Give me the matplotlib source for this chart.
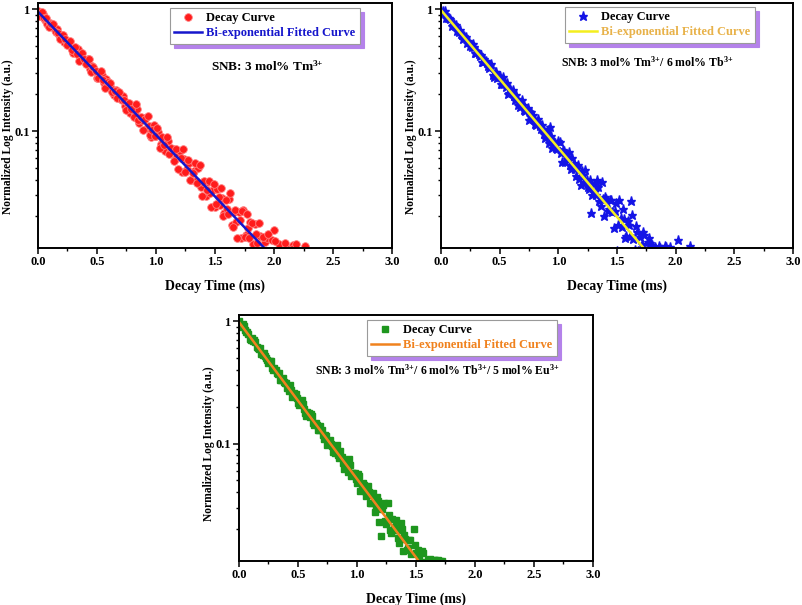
import numpy as np
import matplotlib
matplotlib.use("Agg")
import matplotlib.pyplot as plt
from matplotlib.ticker import (MultipleLocator, FixedLocator, LogLocator,
                               NullFormatter, FuncFormatter, FormatStrFormatter)

plt.rcParams["font.family"] = ["Liberation Serif", "DejaVu Serif"]
plt.rcParams["font.weight"] = "bold"
plt.rcParams["mathtext.fontset"] = "custom"
plt.rcParams["mathtext.rm"] = "Liberation Serif:bold"
plt.rcParams["mathtext.bf"] = "Liberation Serif:bold"
plt.rcParams["mathtext.it"] = "Liberation Serif:bold"

# === Data ===
# two interleaved sampling grids of the decay (ms)
decay_time = [
    0.00, 0.02, 0.04, 0.06, 0.08, 0.10, 0.12, 0.14, 0.16, 0.18,
    0.20, 0.22, 0.24, 0.26, 0.28, 0.30, 0.32, 0.34, 0.36, 0.38,
    0.40, 0.42, 0.44, 0.46, 0.48, 0.50, 0.52, 0.54, 0.56, 0.58,
    0.60, 0.62, 0.64, 0.66, 0.68, 0.70, 0.72, 0.74, 0.76, 0.78,
    0.80, 0.82, 0.84, 0.86, 0.88, 0.90, 0.92, 0.94, 0.96, 0.98,
    1.00, 1.02, 1.04, 1.06, 1.08, 1.10, 1.12, 1.14, 1.16, 1.18,
    1.20, 1.22, 1.24, 1.26, 1.28, 1.30, 1.32, 1.34, 1.36, 1.38,
    1.40, 1.42, 1.44, 1.46, 1.48, 1.50, 1.52, 1.54, 1.56, 1.58,
    1.60, 1.62, 1.64, 1.66, 1.68, 1.70, 1.72, 1.74, 1.76, 1.78,
    1.80, 1.82, 1.84, 1.86, 1.88, 1.90, 1.92, 1.94, 1.96, 1.98,
    2.00, 2.02, 2.04, 2.06, 2.08, 2.10, 2.12, 2.14, 2.16, 2.18,
    2.20, 2.22, 2.24, 2.26, 2.28,
]
decay_time_b = [
    0.01, 0.03, 0.05, 0.07, 0.09, 0.11, 0.13, 0.15, 0.17, 0.19,
    0.21, 0.23, 0.25, 0.27, 0.29, 0.31, 0.33, 0.35, 0.37, 0.39,
    0.41, 0.43, 0.45, 0.47, 0.49, 0.51, 0.53, 0.55, 0.57, 0.59,
    0.61, 0.63, 0.65, 0.67, 0.69, 0.71, 0.73, 0.75, 0.77, 0.79,
    0.81, 0.83, 0.85, 0.87, 0.89, 0.91, 0.93, 0.95, 0.97, 0.99,
    1.01, 1.03, 1.05, 1.07, 1.09, 1.11, 1.13, 1.15, 1.17, 1.19,
    1.21, 1.23, 1.25, 1.27, 1.29, 1.31, 1.33, 1.35, 1.37, 1.39,
    1.41, 1.43, 1.45, 1.47, 1.49, 1.51, 1.53, 1.55, 1.57, 1.59,
    1.61, 1.63, 1.65, 1.67, 1.69, 1.71, 1.73, 1.75, 1.77, 1.79,
    1.81, 1.83, 1.85, 1.87, 1.89, 1.91, 1.93, 1.95, 1.97, 1.99,
    2.01, 2.03, 2.05, 2.07, 2.09, 2.11, 2.13, 2.15, 2.17, 2.19,
    2.21, 2.23, 2.25, 2.27,
]

# SNB: 3 mol% Tm
tm_intensity = [
    0.97, 0.871, 0.912, 0.817, 0.749, 0.775, 0.723, 0.667, 0.686, 0.611,
    0.618, 0.538, 0.550, 0.540, 0.488, 0.439, 0.469, 0.472, 0.390, 0.393,
    0.368, 0.389, 0.321, 0.341, 0.308, 0.273, 0.292, 0.286, 0.249, 0.266,
    0.224, 0.227, 0.199, 0.219, 0.199, 0.182, 0.193, 0.161, 0.168, 0.141,
    0.159, 0.137, 0.151, 0.117, 0.123, 0.127, 0.106, 0.111, 0.0901, 0.112,
    0.0916, 0.0977, 0.0790, 0.0831, 0.0690, 0.0833, 0.0674, 0.0709, 0.0590, 0.0621,
    0.0689, 0.0462, 0.0590, 0.0487, 0.0549, 0.0400, 0.0470, 0.0389, 0.0494, 0.0346,
    0.0382, 0.0296, 0.0386, 0.0312, 0.0331, 0.0237, 0.0335, 0.0249, 0.0281, 0.0213,
    0.0230, 0.0280, 0.0170, 0.0219, 0.0180, 0.0219, 0.0133, 0.0224, 0.0141, 0.0161,
    0.0179, 0.0119, 0.0173, 0.0122, 0.0139, 0.0096, 0.0124, 0.0133, 0.0091, 0.0128,
    0.0154, 0.0085, 0.0118, 0.0080, 0.0076, 0.0112, 0.0070, 0.0068, 0.0116, 0.0062,
    0.0060, 0.0058, 0.0056, 0.0115, 0.0050,
]
tm_intensity_b = [
    0.885, 0.946, 0.839, 0.840, 0.717, 0.754, 0.755, 0.649, 0.640, 0.572,
    0.612, 0.566, 0.510, 0.550, 0.458, 0.484, 0.432, 0.375, 0.437, 0.389,
    0.354, 0.388, 0.305, 0.338, 0.311, 0.271, 0.311, 0.262, 0.227, 0.252,
    0.249, 0.210, 0.211, 0.185, 0.209, 0.179, 0.180, 0.148, 0.169, 0.151,
    0.131, 0.166, 0.124, 0.131, 0.102, 0.126, 0.134, 0.0927, 0.102, 0.0912,
    0.105, 0.0720, 0.0899, 0.0773, 0.0889, 0.0649, 0.0731, 0.0567, 0.0709, 0.0486,
    0.0606, 0.0712, 0.0461, 0.0576, 0.0396, 0.0452, 0.0549, 0.0377, 0.0530, 0.0295,
    0.0393, 0.0332, 0.0390, 0.0238, 0.0367, 0.0252, 0.0289, 0.0339, 0.0200, 0.0273,
    0.0209, 0.0311, 0.0164, 0.0226, 0.0134, 0.0186, 0.0220, 0.0135, 0.0208, 0.0133,
    0.0177, 0.0101, 0.0144, 0.0178, 0.0101, 0.0135, 0.0103, 0.0143, 0.0075, 0.0100,
    0.0125, 0.0083, 0.0105, 0.0076, 0.0121, 0.0070, 0.0067, 0.0108, 0.0062, 0.0118,
    0.0057, 0.0055, 0.0053, 0.0051,
]
tm_fit_time = [0.0, 0.5, 1.0, 1.5, 2.0]
tm_fit = [0.95, 0.297, 0.0929, 0.0291, 0.0091]

# SNB: 3 mol% Tm / 6 mol% Tb
tmtb_intensity = [
    0.962, 0.956, 0.847, 0.846, 0.826, 0.738, 0.721, 0.659, 0.677, 0.608,
    0.596, 0.528, 0.532, 0.491, 0.489, 0.437, 0.426, 0.422, 0.370, 0.372,
    0.343, 0.345, 0.290, 0.303, 0.272, 0.285, 0.241, 0.244, 0.247, 0.205,
    0.214, 0.192, 0.196, 0.162, 0.168, 0.164, 0.145, 0.154, 0.132, 0.135,
    0.115, 0.119, 0.109, 0.112, 0.0945, 0.0966, 0.0797, 0.0916, 0.0806, 0.0728,
    0.0825, 0.0664, 0.0698, 0.0562, 0.0613, 0.0526, 0.0596, 0.0492, 0.0504, 0.0401,
    0.0472, 0.0380, 0.0394, 0.0338, 0.0215, 0.0365, 0.0299, 0.0348, 0.0241, 0.0280,
    0.0287, 0.0223, 0.0274, 0.0216, 0.0221, 0.0104, 0.0272, 0.0165, 0.0192, 0.0139,
    0.0171, 0.0265, 0.0131, 0.0168, 0.0105, 0.0135, 0.0148, 0.0098, 0.0123, 0.0120,
    0.0117, 0.0112, 0.0079, 0.0114, 0.0071, 0.0068, 0.0112, 0.0060, 0.0058, 0.0056,
    0.0054, 0.0128, 0.0049, 0.0047, 0.0045, 0.0043, 0.0115,
]
tmtb_intensity_b = [
    0.916, 0.958, 0.854, 0.845, 0.729, 0.751, 0.743, 0.645, 0.629, 0.566,
    0.591, 0.547, 0.494, 0.520, 0.439, 0.449, 0.409, 0.368, 0.393, 0.358,
    0.326, 0.355, 0.277, 0.305, 0.280, 0.243, 0.277, 0.231, 0.200, 0.221,
    0.217, 0.181, 0.183, 0.158, 0.179, 0.150, 0.152, 0.124, 0.142, 0.125,
    0.112, 0.125, 0.103, 0.104, 0.0881, 0.102, 0.107, 0.0730, 0.0801, 0.0714,
    0.0818, 0.0558, 0.0693, 0.0593, 0.0678, 0.0492, 0.0551, 0.0426, 0.0529, 0.0360,
    0.0439, 0.0481, 0.0349, 0.0399, 0.0302, 0.0324, 0.0399, 0.0265, 0.0384, 0.0203,
    0.0276, 0.0230, 0.0274, 0.0160, 0.0256, 0.0170, 0.0195, 0.0231, 0.0132, 0.0184,
    0.0138, 0.0204, 0.0107, 0.0148, 0.0087, 0.0119, 0.0141, 0.0086, 0.0132, 0.0084,
    0.0111, 0.0063, 0.0089, 0.0110, 0.0062, 0.0114, 0.0058, 0.0113, 0.0055, 0.0053,
]
tmtb_fit_time = [0.0, 0.5, 1.0, 1.5, 1.8]
tmtb_fit = [0.98, 0.2668, 0.0727, 0.0198, 0.0091]

# SNB: 3 mol% Tm / 6 mol% Tb / 5 mol% Eu
tmtbeu_intensity = [
    1.00, 0.899, 0.904, 0.814, 0.785, 0.700, 0.693, 0.669, 0.600, 0.601,
    0.527, 0.518, 0.477, 0.469, 0.411, 0.413, 0.380, 0.374, 0.331, 0.320,
    0.315, 0.270, 0.274, 0.249, 0.254, 0.216, 0.212, 0.209, 0.177, 0.182,
    0.164, 0.169, 0.143, 0.143, 0.129, 0.128, 0.109, 0.116, 0.103, 0.100,
    0.0856, 0.0937, 0.0805, 0.0862, 0.0691, 0.0707, 0.0587, 0.0666, 0.0579, 0.0572,
    0.0480, 0.0545, 0.0442, 0.0457, 0.0371, 0.0405, 0.0329, 0.0394, 0.0309, 0.0338,
    0.0177, 0.0317, 0.0235, 0.0330, 0.0198, 0.0242, 0.0197, 0.0196, 0.0154, 0.0202,
    0.0179, 0.0135, 0.0164, 0.0126, 0.0200, 0.0127, 0.0136, 0.0090, 0.0128, 0.0108,
    0.0112, 0.0115, 0.0070, 0.0112, 0.0064, 0.0110, 0.0111, 0.0055,
]
tmtbeu_intensity_b = [
    0.920, 0.939, 0.841, 0.820, 0.714, 0.721, 0.703, 0.616, 0.594, 0.535,
    0.546, 0.504, 0.457, 0.469, 0.401, 0.402, 0.367, 0.330, 0.342, 0.313,
    0.285, 0.301, 0.242, 0.258, 0.236, 0.206, 0.225, 0.191, 0.168, 0.179,
    0.174, 0.147, 0.146, 0.129, 0.139, 0.118, 0.117, 0.0976, 0.107, 0.0952,
    0.0831, 0.0981, 0.0762, 0.0779, 0.0625, 0.0727, 0.0743, 0.0541, 0.0571, 0.0513,
    0.0560, 0.0408, 0.0475, 0.0412, 0.0449, 0.0328, 0.0379, 0.0276, 0.0363, 0.0228,
    0.0291, 0.0328, 0.0222, 0.0263, 0.0187, 0.0207, 0.0239, 0.0171, 0.0223, 0.0133,
    0.0167, 0.0141, 0.0164, 0.0099, 0.0149, 0.0102, 0.0115, 0.0134, 0.0078, 0.0105,
    0.0113, 0.0074, 0.0112, 0.0065, 0.0113, 0.0060,
]
tmtbeu_fit_time = [0.0, 0.5, 1.0, 1.5, 1.6]
tmtbeu_fit = [0.98, 0.224, 0.0515, 0.0118, 0.0087]

labels = [r"SNB: 3 mol% Tm$^{3{+}}$",
          r"SNB: 3 mol% Tm$^{3{+}}$/ 6 mol% Tb$^{3{+}}$",
          r"SNB: 3 mol% Tm$^{3{+}}$/ 6 mol% Tb$^{3{+}}$/ 5 mol% Eu$^{3{+}}$"]


# === Axes styling ===
def style_axes(ax, ylabel_y):
    ax.set_yscale("log")
    ax.set_xlim(0, 3)
    ax.set_ylim(0.011, 1.12)
    ax.xaxis.set_major_locator(MultipleLocator(0.5))
    ax.xaxis.set_minor_locator(MultipleLocator(0.25))
    ax.xaxis.set_major_formatter(FormatStrFormatter("%.1f"))
    ax.yaxis.set_major_locator(FixedLocator([0.1, 1.0]))
    ax.yaxis.set_major_formatter(FuncFormatter(lambda v, _: f"{v:g}"))
    ax.yaxis.set_minor_locator(LogLocator(base=10, subs=np.arange(2, 10)))
    ax.yaxis.set_minor_formatter(NullFormatter())
    ax.tick_params(which="major", direction="out", length=4, width=1.1,
                   labelsize=9, pad=2)
    ax.tick_params(which="minor", direction="out", length=2.5, width=1)
    for s in ax.spines.values():
        s.set_linewidth(1.4)
    ax.set_xlabel("Decay Time (ms)", fontsize=10, fontweight="bold", labelpad=8)
    ax.set_ylabel("Normalized Log Intensity (a.u.)", fontsize=8.3,
                  fontweight="bold")
    ax.yaxis.set_label_coords(-0.068, ylabel_y)


def add_legend(ax, anchor, text_color):
    leg = ax.legend(loc="upper left", bbox_to_anchor=anchor, borderaxespad=0,
                    fontsize=9, numpoints=1, handlelength=2.2, handletextpad=0.35,
                    labelspacing=0.25, borderpad=0.35, fancybox=False,
                    edgecolor="#9a9a9a", framealpha=1,
                    shadow={"color": "#b482ea", "alpha": 1.0, "ox": 3, "oy": -3})
    leg.get_frame().set_linewidth(0.8)
    leg.get_texts()[1].set_color(text_color)
    return leg


fig = plt.figure(figsize=(8.03, 6.05), dpi=100)
ax1 = fig.add_axes([0.0473, 0.590, 0.4409, 0.405])
ax2 = fig.add_axes([0.5492, 0.590, 0.4384, 0.405])
ax3 = fig.add_axes([0.2976, 0.0727, 0.4408, 0.4066])

# Panel 1
red = dict(color="#ff1c1c", mec="#ff8080", mew=0.6, ms=5.5, ls="none")
ax1.plot(decay_time[:len(tm_intensity)], tm_intensity, "o", label="Decay Curve", **red)
ax1.plot(decay_time_b[:len(tm_intensity_b)], tm_intensity_b, "o", **red)
ax1.plot(tm_fit_time, tm_fit, "-", color="#1616cc", lw=1.8,
         label="Bi-exponential Fitted Curve")
style_axes(ax1, 0.453)
add_legend(ax1, (0.373, 0.98), "#1616cc")
ax1.text(0.647, 0.74, labels[0], transform=ax1.transAxes, ha="center",
         va="center", fontsize=9.5, fontweight="bold")

# Panel 2
blue = dict(color="#1414e6", mec="#1414e6", ms=6.5, ls="none")
ax2.plot(decay_time[:len(tmtb_intensity)], tmtb_intensity, "*", label="Decay Curve", **blue)
ax2.plot(decay_time_b[:len(tmtb_intensity_b)], tmtb_intensity_b, "*", **blue)
ax2.plot(tmtb_fit_time, tmtb_fit, "-", color="#f4ee1e", lw=1.8,
         label="Bi-exponential Fitted Curve")
style_axes(ax2, 0.453)
add_legend(ax2, (0.352, 0.984), "#e8b24a")
ax2.text(0.587, 0.76, labels[1], transform=ax2.transAxes, ha="center",
         va="center", fontsize=8.5, fontweight="bold")

# Panel 3
green = dict(color="#1e961e", mec="#1e961e", ms=4.4, ls="none")
ax3.plot(decay_time[:len(tmtbeu_intensity)], tmtbeu_intensity, "s",
         label="Decay Curve", **green)
ax3.plot(decay_time_b[:len(tmtbeu_intensity_b)], tmtbeu_intensity_b, "s", **green)
ax3.plot(tmtbeu_fit_time, tmtbeu_fit, "-", color="#f0821e", lw=1.8,
         label="Bi-exponential Fitted Curve")
style_axes(ax3, 0.478)
add_legend(ax3, (0.361, 0.98), "#f0821e")
ax3.text(0.561, 0.776, labels[2], transform=ax3.transAxes, ha="center",
         va="center", fontsize=8.5, fontweight="bold")

fig.savefig("out.png", dpi=100)
